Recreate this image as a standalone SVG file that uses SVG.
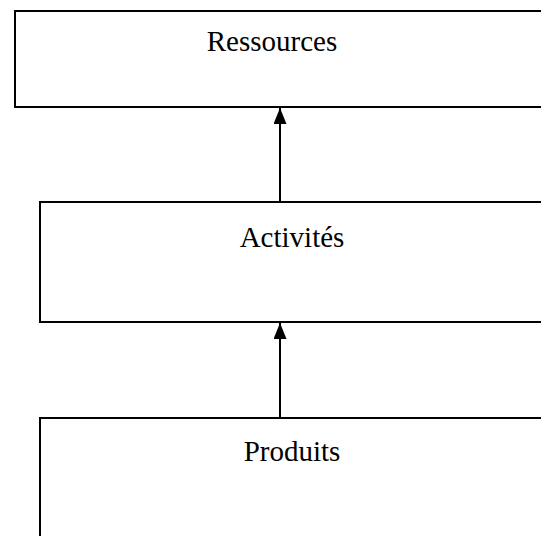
<svg xmlns="http://www.w3.org/2000/svg" width="541" height="536" viewBox="0 0 541 536">
<style>
.box{fill:#fff;stroke:#000;stroke-width:2}
.lbl{font-family:"Liberation Serif","Times New Roman",serif;font-size:29px;fill:#000;text-anchor:middle}
.conn{stroke:#000;stroke-width:2;fill:none}
</style>
<defs>
<marker id="ah" markerWidth="16" markerHeight="13" refX="16" refY="6.5" orient="auto" markerUnits="userSpaceOnUse" viewBox="0 0 16 13">
<path d="M0,0 L16,6.5 L0,13 z" fill="#000"/>
</marker>
</defs>
<rect width="541" height="536" fill="#fff"/>
<g id="ressources">
<rect class="box" x="15" y="11" width="540" height="96"/>
<text class="lbl" x="272" y="51">Ressources</text>
</g>
<g id="activites">
<rect class="box" x="40" y="202" width="520" height="120"/>
<text class="lbl" x="292" y="247">Activités</text>
</g>
<g id="produits">
<rect class="box" x="40" y="418" width="520" height="140"/>
<text class="lbl" x="292" y="461">Produits</text>
</g>
<g id="connectors">
<line class="conn" x1="280" y1="202" x2="280" y2="108" marker-end="url(#ah)"/>
<line class="conn" x1="280" y1="418" x2="280" y2="323" marker-end="url(#ah)"/>
</g>
</svg>
